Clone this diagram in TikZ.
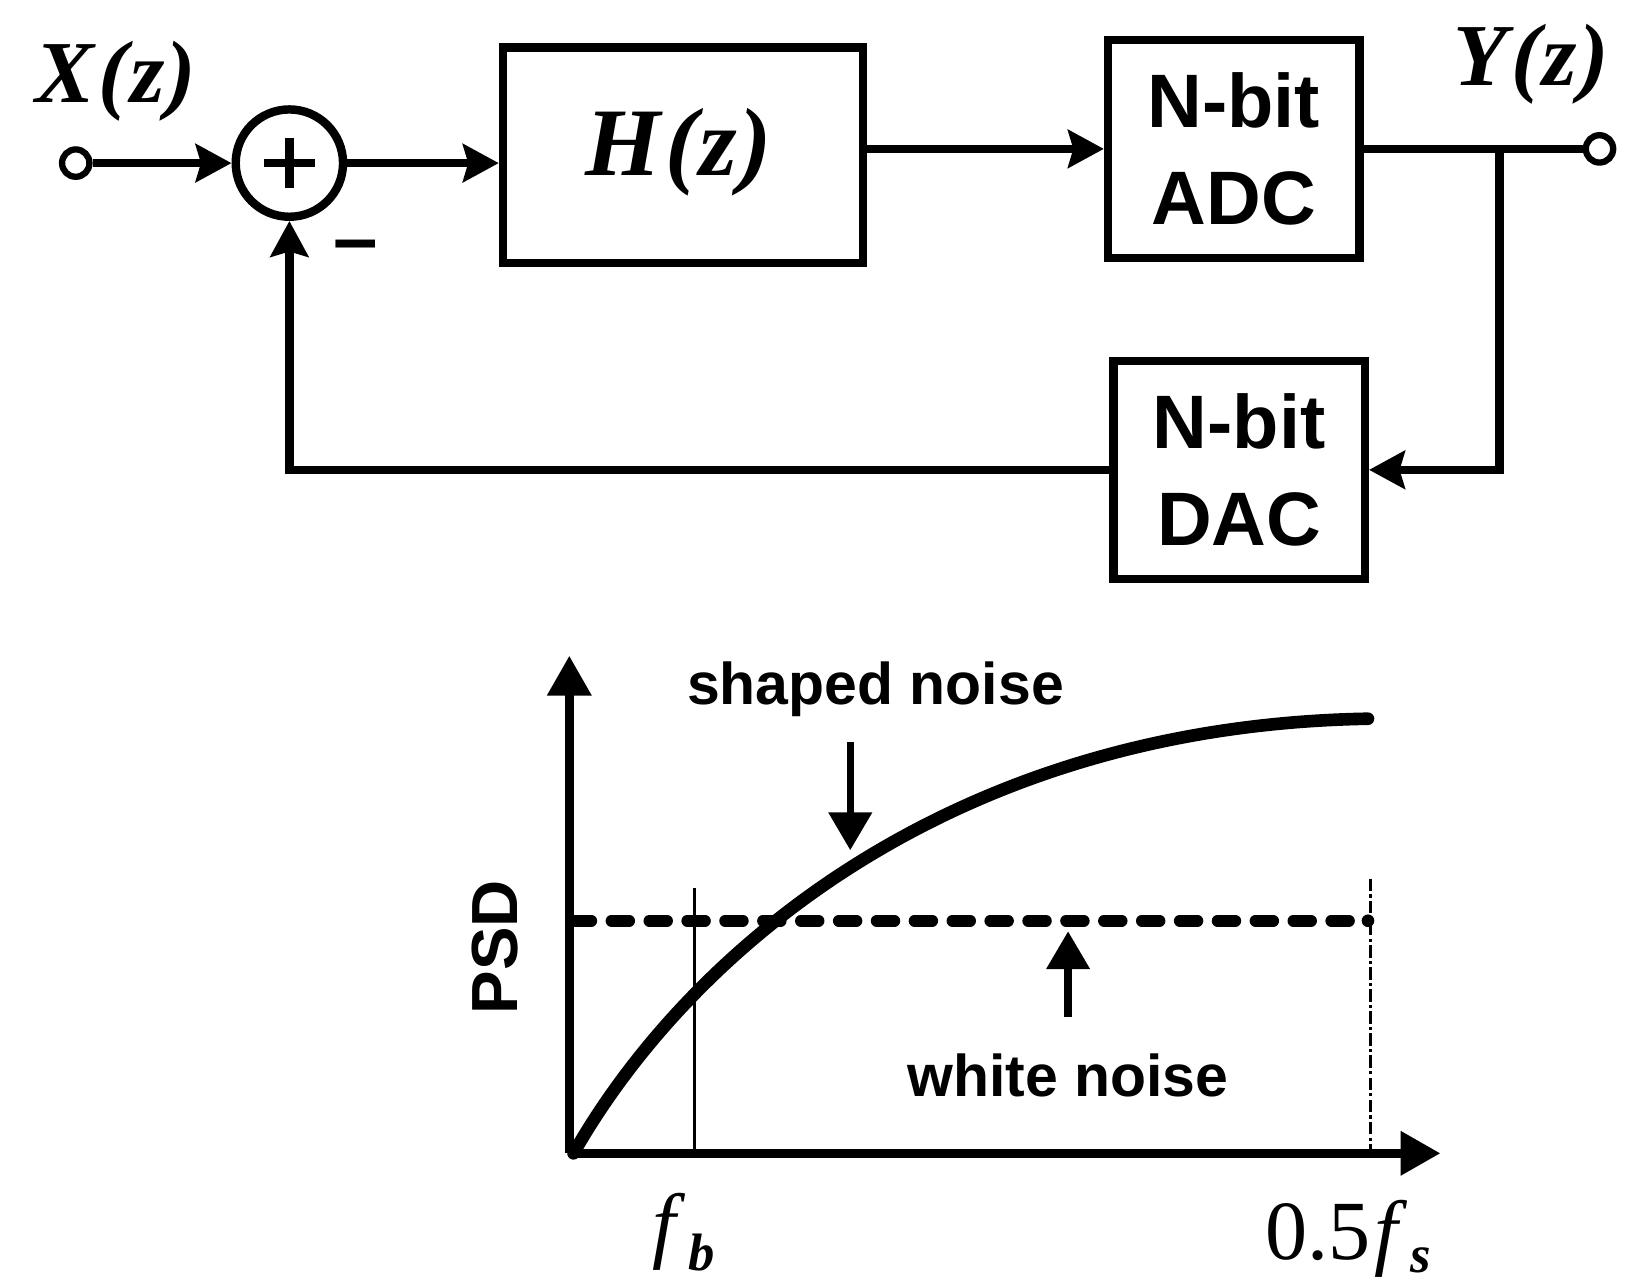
\documentclass[tikz,border=0pt]{standalone}
\usepackage{fontspec}
\setmainfont{Liberation Serif}
\newfontfamily\sansfont{Liberation Sans}
\usetikzlibrary{arrows.meta}
\begin{document}
\begin{tikzpicture}[x=0.5pt,y=-0.5pt,
  wire/.style={line width=4pt},
  arr/.style={wire,-{Stealth[length=17pt,width=18pt,inset=2.5pt]}},
  blk/.style={draw,line width=4pt,inner sep=0pt,align=center,
    font=\sansfont\bfseries\fontsize{36}{46}\selectfont},
  conv/.style={blk,minimum width=119.5pt,minimum height=103.5pt},
  port/.style={circle,draw,line width=3pt,minimum size=13pt,inner sep=0pt},
  mlab/.style={inner sep=0pt,font=\fontsize{42}{42}\selectfont\bfseries\itshape},
  slab/.style={inner sep=0pt,font=\sansfont\bfseries\fontsize{28}{28}\selectfont},
  axis/.style={line width=4.5pt,-{Triangle[length=19pt,width=20pt]}},
  pointer/.style={line width=3.5pt,-{Triangle[length=18pt,width=20pt]}},
]
\useasboundingbox (0,0) rectangle (1568,1218);

% ---------- block diagram ----------
\node[port] (in) at (72,155) {};
\node[circle,draw,line width=4pt,minimum size=51pt,inner sep=0pt] (sum) at (275,155) {};
\draw[line width=4pt] ([xshift=-12pt]sum.center) -- ([xshift=12pt]sum.center);
\draw[line width=4pt] ([yshift=-12pt]sum.center) -- ([yshift=12pt]sum.center);
\node[blk,minimum width=171pt,minimum height=102.5pt] (H) at (649,147.5) {};
\node[mlab,font=\fontsize{46}{46}\selectfont\bfseries\itshape] (Hl) at (645,145) {H\kern2pt(\kern1pt z\kern1pt)};
\node[conv] (adc) at (1172.5,141.5) {N-bit\\ADC};
\node[conv] (dac) at (1177.5,446.5) {N-bit\\DAC};
\node[port] (out) at (1520,141.5) {};
\coordinate (jn) at (1425,141.5);
\coordinate (fbc) at (1425,446.5);
\coordinate (fbl) at (sum.south |- dac.west);

\node[mlab] (xl) at (110,77) {X\kern2pt(\kern1pt z\kern1pt)};
\node[mlab] (yl) at (1455,61) {Y\kern2pt(\kern1pt z\kern1pt)};
\node[slab,font=\sansfont\bfseries\fontsize{38}{38}\selectfont] (minus) at (338,240) {–};

\draw[arr] (in) -- (sum);
\draw[arr] (sum.east) -- (sum.east -| H.west);
\draw[arr] (H.east |- adc.west) -- (adc.west);
\draw[wire] (adc.east) -- (out.west);
\draw[arr] (jn) -- (fbc) -- (dac.east);
\draw[arr] (dac.west) -- (fbl) -- (sum.south);

% ---------- PSD plot ----------
\coordinate (O) at (541,1096);
\coordinate (ytip) at (541,623);
\coordinate (xtip) at (1369,1096);
\draw[axis] (O) -- (ytip);
\draw[axis] (O) -- (xtip);
\node[slab,font=\sansfont\bfseries\fontsize{31}{31}\selectfont,rotate=90] (psd) at (470,900) {PSD};

\coordinate (fbtop) at (660,844);
\coordinate (fbbot) at (660,1096);
\draw[line width=1.8pt] (fbtop) -- (fbbot);
\coordinate (fstop) at (1302,835);
\coordinate (fsbot) at (1302,1096);
\draw[line width=1.4pt,dash pattern=on 6pt off 1.5pt on 1.5pt off 1.5pt] (fstop) -- (fsbot);

\coordinate (wl) at (545,875);
\coordinate (wr) at (1300,875);
\draw[line width=5.5pt,line cap=round,dash pattern=on 8.5pt off 9.5pt] (wl) -- (wr);
\fill (wr) circle (3pt);

\coordinate (c0) at (545,1096);
\coordinate (c3) at (1300,683);
\draw[line width=6pt,line cap=round] (c0) .. controls (652,908) and (900,690) .. (c3);

\node[slab] (sn) at (832,655) {shaped noise};
\coordinate (snt) at (808,705);
\coordinate (snh) at (808,808);
\draw[pointer] (snt) -- (snh);
\node[slab] (wn) at (1015,1022) {white noise};
\coordinate (wnt) at (1015,966);
\coordinate (wnh) at (1015,885);
\draw[pointer] (wnt) -- (wnh);

\node[inner sep=0pt,anchor=base west,font=\fontsize{40}{40}\selectfont] (fb) at (620,1190)
  {\itshape f\kern6pt\raisebox{-8.5pt}{\fontsize{25}{25}\selectfont\bfseries\itshape b}};
\node[inner sep=0pt,anchor=base west,font=\fontsize{40}{40}\selectfont] (fs) at (1202,1197)
  {0.5\kern2pt{\itshape f}\kern6pt\raisebox{-6pt}{\fontsize{25}{25}\selectfont\bfseries\itshape s}};
\end{tikzpicture}
\end{document}
